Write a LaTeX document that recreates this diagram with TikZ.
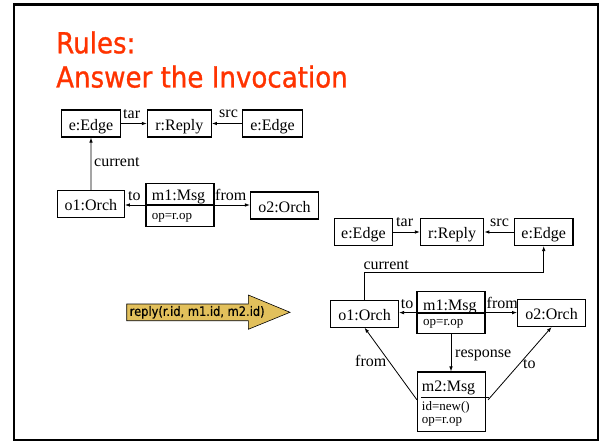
\documentclass[tikz,border=0pt]{standalone}
\usepackage{fontspec}
\setmainfont{Liberation Serif}
\newfontfamily\headfont[FakeStretch=0.9,FakeBold=0.9]{DejaVu Sans}
\newfontfamily\rulefont[FakeStretch=0.88,FakeBold=0.3]{DejaVu Sans}
\usetikzlibrary{arrows.meta}
\definecolor{headred}{RGB}{255,51,0}
\definecolor{rulegold}{RGB}{226,192,92}

\begin{document}
\begin{tikzpicture}[x=1pt,y=-1pt,
  obj/.style={draw, line width=1.1pt, inner xsep=0pt, inner ysep=0pt,
    text height=20pt, text depth=7pt, font=\fontsize{16}{16}\selectfont},
  msgbox/.style={draw, line width=1.1pt, inner sep=0pt},
  msgname/.style={anchor=base west, inner sep=0pt, font=\fontsize{16}{16}\selectfont},
  attr/.style={anchor=base west, inner sep=0pt, font=\fontsize{13}{13}\selectfont},
  lbl/.style={anchor=base west, inner sep=0pt, font=\fontsize{16}{16}\selectfont},
  link/.style={line width=0.8pt, -{Latex[length=5pt,width=3.6pt]}},
  sepline/.style={line width=1.8pt},
  heading/.style={anchor=base west, inner sep=0pt, text=headred,
    font=\headfont\fontsize{29}{29}\selectfont}]

\useasboundingbox (0,0) rectangle (603,444);
\draw[line width=2.5pt] (14,4.3) rectangle (598,440);

% heading
\node[heading] (ttl1) at (56,53.3) {Rules:};
\node[heading] (ttl2) at (56,87.5) {Answer the Invocation};

% ---------------- left-hand side of the rule ----------------
\node[obj, minimum width=59pt] (eA) at (91,123.5) {e:Edge};
\node[obj, minimum width=64pt] (rA) at (179.4,123.5) {r:Reply};
\node[obj, minimum width=60pt] (fA) at (272.6,123.5) {e:Edge};
\node[obj, minimum width=67pt] (oA) at (90.9,204) {o1:Orch};
\node[obj, minimum width=68pt] (pA) at (284.5,205.5) {o2:Orch};
\node[msgbox, minimum width=68pt, minimum height=43.4pt] (mA) at (180,205) {};
\node[msgname] (mAn) at (151.7,200) {m1:Msg};
\node[attr] (mAa) at (151.7,219.5) {op=r.op};

\draw[link] (eA.east) -- (rA.west);
\draw[link] (fA.west) -- (rA.east);
\draw[link] (oA.north) -- (eA.south);
\draw[sepline] (mA.west |- mA.center) -- (mA.east |- mA.center);
\draw[link] (mA.center) -- (oA.east |- mA.center);
\draw[link] (mA.center) -- (pA.west |- mA.center);

\node[lbl] (tarA) at (123,118) {tar};
\node[lbl] (srcA) at (219,117.5) {src};
\node[lbl] (curA) at (94,166) {current};
\node[lbl] (toA) at (128,200.5) {to};
\node[lbl] (fromA) at (215,200.5) {from};

% ---------------- transformation arrow ----------------
\filldraw[fill=rulegold, draw=black, line width=0.6pt]
  (126.7,304) -- (248.3,304) -- (248.3,295) -- (290,312.3)
  -- (248.3,329.3) -- (248.3,320.7) -- (126.7,320.7) -- cycle;
\node[anchor=west, inner sep=0pt, font=\rulefont\fontsize{13}{13}\selectfont]
  (call) at (129.5,312.3) {reply(r.id, m1.id, m2.id)};

% ---------------- right-hand side of the rule ----------------
\node[obj, minimum width=58.2pt] (eB) at (363.4,232) {e:Edge};
\node[obj, minimum width=63.4pt] (rB) at (452.1,232) {r:Reply};
\node[obj, minimum width=58.6pt] (fB) at (543.7,232) {e:Edge};
\node[obj, minimum width=67.8pt] (oB) at (364.6,313.7) {o1:Orch};
\node[obj, minimum width=68pt] (pB) at (551.6,313) {o2:Orch};
\node[msgbox, minimum width=68pt, minimum height=41.8pt] (mB) at (451,312.6) {};
\node[msgname] (mBn) at (423,310.5) {m1:Msg};
\node[attr] (mBa) at (423,325) {op=r.op};
\node[msgbox, minimum width=68pt, minimum height=59.7pt] (nB) at (451.5,401.85) {};
\node[msgname] (nBn) at (421.7,391) {m2:Msg};
\node[attr] (nBa) at (421.7,410) {id=new()};
\node[attr] (nBb) at (421.7,423) {op=r.op};

\coordinate (curB) at (0,272.3);
\draw[link] (eB.east) -- (rB.west);
\draw[link] (fB.west) -- (rB.east);
\draw[link] (oB.north) -- (oB.north |- curB) -| (fB.south);
\draw[sepline] (mB.west |- mB.center) -- (mB.east |- mB.center);
\draw[link] (mB.center) -- (oB.east |- mB.center);
\draw[link] (mB.center) -- (pB.west |- mB.center);
\draw[link] (mB.south) -- (mB.south |- nB.north);
\draw[sepline] ([xshift=4pt,yshift=4.3pt]nB.west) -- ([xshift=3pt,yshift=4.3pt]nB.east);
\draw[link] ([yshift=2pt]nB.west) -- (oB.south);
\draw[link] ([xshift=2pt,yshift=2pt]nB.east) -- (pB.south);

\node[lbl] (tarB) at (396,226.5) {tar};
\node[lbl] (srcB) at (490,226.5) {src};
\node[lbl] (curBl) at (363.3,269) {current};
\node[lbl] (toB) at (400.7,308.5) {to};
\node[lbl] (fromB) at (486.5,308.5) {from};
\node[lbl] (resB) at (455,357.5) {response};
\node[lbl] (fromC) at (355,366.5) {from};
\node[lbl] (toC) at (523,368) {to};

\end{tikzpicture}
\end{document}
